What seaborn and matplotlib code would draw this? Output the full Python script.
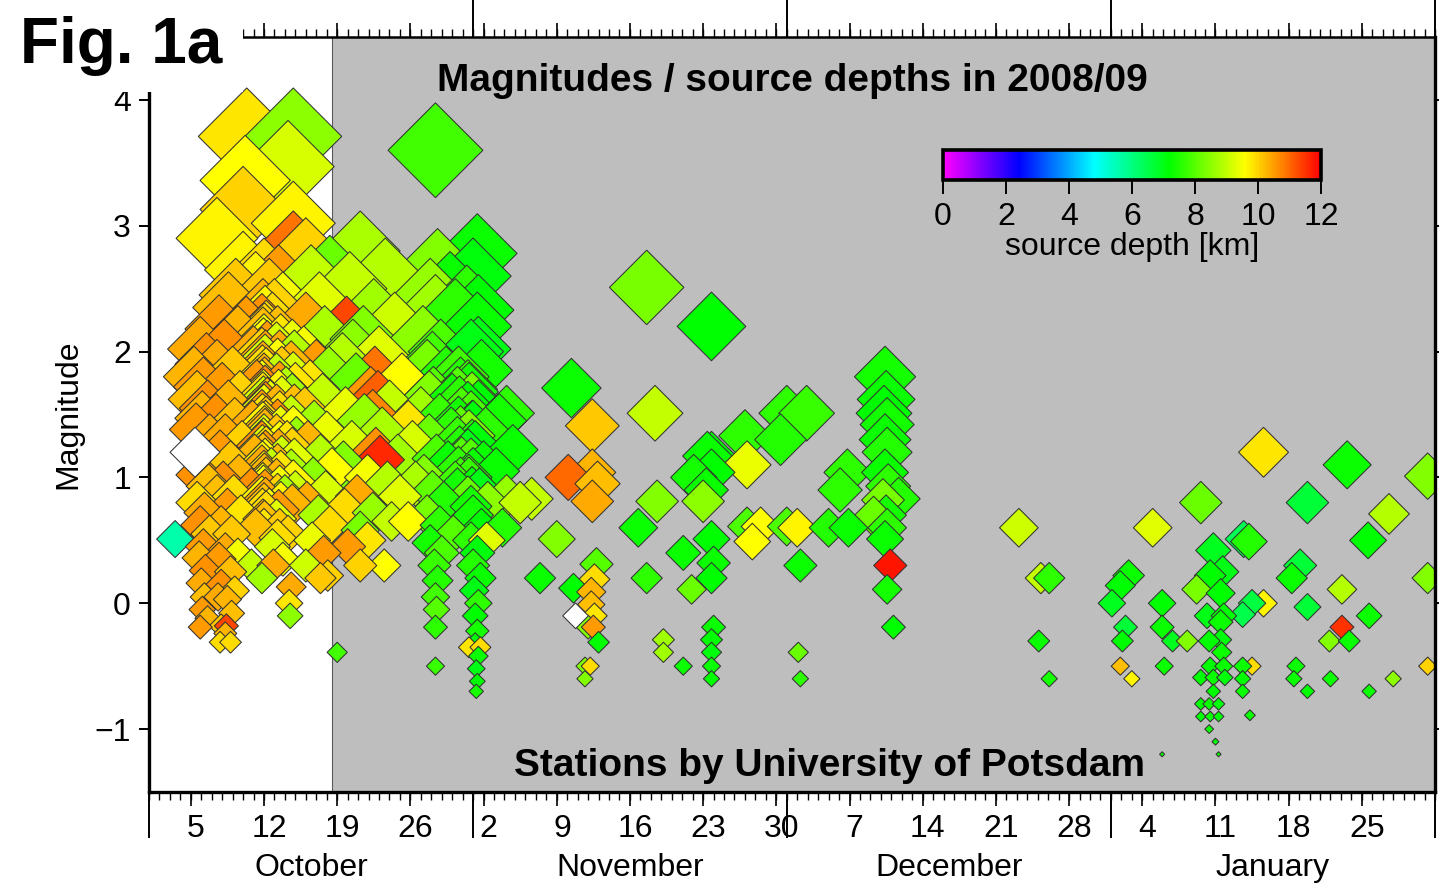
import numpy as np
import pandas as pd
import matplotlib
matplotlib.use("Agg")
import matplotlib.pyplot as plt
import seaborn as sns
from matplotlib.colors import LinearSegmentedColormap, Normalize
from matplotlib.cm import ScalarMappable
from matplotlib.patches import Rectangle
from matplotlib.ticker import NullLocator

# Event list: (days after 2008-10-01 00:00, magnitude, source depth in km)
# depth = nan marks events without a depth solution.

oct_early = [
    (2.5, 0.51, 5.6),
    (4.9, 2.02, 10.4), (5.5, 1.90, 10.6), (4.3, 1.80, 10.3), (5.2, 1.72, 10.5),
    (4.6, 1.62, 10.2), (5.6, 1.55, 10.6), (5.1, 1.47, 10.3), (4.5, 1.38, 10.5),
    (5.8, 1.30, 10.4), (5.4, 1.12, 10.3), (4.8, 1.02, 10.6), (5.7, 0.93, 10.2),
    (4.6, 0.80, 9.9), (5.3, 0.72, 10.4), (4.9, 0.62, 10.6), (5.8, 0.55, 10.1),
    (5.2, 0.45, 10.5), (4.8, 0.36, 10.3), (5.4, 0.26, 10.6), (5.0, 0.16, 10.4),
    (5.3, 0.05, 10.2), (5.1, -0.05, 10.5), (4.9, -0.19, 10.5), (5.6, -0.12, 10.3),
    (6.9, -0.18, 10.1), (7.4, -0.18, 11.3), (6.8, -0.31, 9.9), (7.8, -0.31, 9.9),
    (7.3, -0.24, 10.3),
]

oct_swarm_a = [
    (9.35, 3.71, 9.8), (9.2, 3.36, 9.6), (9.0, 3.13, 10.0), (6.5, 2.90, 9.7),
    (9.0, 2.65, 9.7), (8.3, 2.45, 10.1),
    (7.6, 2.35, 10.2), (6.7, 2.18, 10.5), (8.5, 2.10, 10.3), (7.2, 2.00, 10.6),
    (9.3, 2.17, 10.5), (6.5, 1.85, 10.4), (8.0, 1.80, 10.1), (7.0, 1.68, 10.5),
    (8.7, 1.62, 10.0), (7.6, 1.55, 10.3), (6.4, 1.45, 10.6), (8.2, 1.42, 10.2),
    (7.3, 1.30, 10.4), (8.9, 1.25, 10.0), (6.8, 1.18, 10.5), (7.8, 1.10, 10.1),
    (8.6, 1.00, 10.3), (7.1, 0.95, 10.6), (6.5, 0.85, 10.2), (8.1, 0.85, 9.9),
    (7.5, 0.75, 10.5), (8.8, 0.70, 9.8), (6.9, 0.62, 10.3), (7.9, 0.55, 10.1),
    (7.3, 0.42, 10.4), (8.5, 0.38, 9.5), (6.7, 0.35, 10.5), (7.8, 0.25, 10.2),
    (6.9, 0.15, 10.6), (8.2, 0.10, 10.0), (7.5, 0.03, 10.3), (6.6, 0.05, 10.4),
    (7.9, -0.08, 10.2),
]

oct_swarm_b = [
    (10.9, 2.30, 10.3), (11.1, 2.25, 9.7), (10.8, 2.19, 10.6), (11.2, 2.14, 9.9),
    (10.9, 2.09, 10.2), (11.0, 2.04, 9.5), (11.3, 1.99, 10.5), (10.8, 1.94, 10.0),
    (11.1, 1.89, 9.2), (10.9, 1.84, 10.4), (11.2, 1.79, 9.8), (11.0, 1.75, 10.3),
    (10.8, 1.70, 9.6), (11.1, 1.66, 10.7), (10.9, 1.61, 9.9), (11.3, 1.57, 10.2),
    (11.0, 1.52, 9.4), (10.8, 1.48, 10.5), (11.2, 1.43, 10.1), (10.9, 1.39, 9.7),
    (11.1, 1.34, 10.3), (11.0, 1.30, 9.3), (10.8, 1.25, 10.6), (11.2, 1.21, 9.8),
    (10.9, 1.16, 10.2), (11.1, 1.12, 9.6), (10.8, 1.07, 10.4), (11.0, 1.03, 9.9),
    (11.2, 0.98, 10.2), (10.9, 0.94, 9.5), (11.1, 0.89, 10.5), (10.8, 0.84, 9.7),
    (11.0, 0.79, 10.2), (11.2, 0.73, 9.9), (10.9, 0.67, 10.3), (11.0, 0.60, 9.8),
    (11.05, 2.12, 10.0), (10.95, 2.01, 9.6), (11.15, 1.92, 10.4), (10.85, 1.81, 9.9),
    (11.05, 1.72, 10.2), (10.95, 1.63, 9.5), (11.15, 1.54, 10.6), (10.85, 1.45, 9.8),
    (11.05, 1.36, 10.1), (10.95, 1.27, 9.4), (11.15, 1.18, 10.5), (10.85, 1.10, 9.7),
    (11.05, 1.01, 10.3), (10.95, 0.92, 9.6), (11.15, 0.83, 10.4), (10.85, 0.75, 9.9),
    (11.05, 0.66, 10.2), (10.95, 1.58, 9.1), (11.15, 1.40, 10.0), (10.85, 1.22, 9.3),
    (12.3, 2.10, 10.2), (12.6, 2.04, 9.8), (12.2, 1.98, 9.2), (12.5, 1.92, 10.4),
    (12.3, 1.86, 9.6), (12.7, 1.80, 10.1), (12.2, 1.75, 9.0), (12.5, 1.69, 10.5),
    (12.4, 1.63, 9.7), (12.7, 1.58, 9.3), (12.2, 1.52, 10.3), (12.5, 1.47, 9.9),
    (12.3, 1.41, 10.6), (12.6, 1.36, 9.4), (12.2, 1.30, 10.1), (12.5, 1.25, 9.6),
    (12.4, 1.19, 10.4), (12.7, 1.14, 9.1), (12.3, 1.08, 10.2), (12.6, 1.03, 9.8),
    (12.2, 0.97, 10.3), (12.5, 0.92, 9.5), (12.3, 0.86, 10.0), (12.6, 0.80, 9.7),
    (12.4, 0.74, 10.5), (12.2, 0.67, 9.3), (12.5, 0.60, 10.1), (12.3, 0.52, 9.9),
    (13.7, 2.00, 9.4), (13.9, 1.92, 8.9), (13.6, 1.84, 10.3), (13.8, 1.76, 9.2),
    (14.0, 1.68, 9.8), (13.7, 1.60, 8.7), (13.9, 1.52, 10.2), (13.6, 1.44, 9.0),
    (13.8, 1.36, 9.6), (14.1, 1.28, 8.6), (13.7, 1.20, 10.0), (13.9, 1.12, 9.3),
    (13.6, 1.04, 8.8), (13.8, 0.96, 9.7), (14.0, 0.88, 9.1), (13.7, 0.78, 10.3),
    (10.2, 2.50, 9.7), (11.5, 2.45, 10.1), (12.8, 2.35, 9.5), (10.0, 1.95, 10.4),
    (11.8, 2.20, 9.9), (10.3, 1.70, 10.5), (11.6, 1.55, 9.4), (9.9, 1.40, 10.4),
    (13.1, 1.65, 8.9), (10.1, 1.15, 10.3), (11.7, 1.05, 9.0), (13.2, 1.25, 9.8),
    (9.8, 0.90, 10.6), (11.5, 0.75, 9.6), (13.0, 0.85, 8.8), (10.2, 0.60, 10.2),
    (11.8, 0.45, 9.2), (13.3, 0.55, 10.0), (9.8, 0.30, 9.0), (10.8, 0.20, 8.7),
    (11.9, 0.30, 10.4), (12.8, 0.35, 9.5), (13.5, -0.10, 8.5), (13.4, 0.00, 9.8),
    (13.6, 0.13, 10.4), (11.0, 2.60, 9.9), (12.4, 2.55, 10.5),
    (13.8, 3.71, 8.5), (13.3, 3.47, 9.2), (13.8, 3.02, 9.7), (13.8, 2.80, 10.9),
    (15.0, 2.75, 10.0), (12.0, 2.30, 10.0),
]

oct_mid = [
    (15.5, 2.55, 9.0), (16.3, 2.35, 9.3), (15.0, 2.20, 10.4), (16.8, 2.10, 8.8),
    (14.8, 1.95, 9.5), (16.0, 1.85, 10.5), (17.2, 1.80, 8.6), (15.4, 1.70, 9.8),
    (16.6, 1.60, 9.0), (14.9, 1.50, 10.1), (15.8, 1.40, 8.7), (17.0, 1.32, 9.4),
    (15.2, 1.25, 10.3), (16.4, 1.15, 8.9), (17.5, 1.05, 9.6), (15.7, 0.98, 8.5),
    (16.9, 0.88, 9.2), (15.1, 0.80, 10.4), (16.2, 0.70, 8.8), (17.3, 0.62, 9.9),
    (15.6, 0.50, 9.4), (16.7, 0.40, 10.5), (15.0, 0.30, 9.1), (16.4, 0.20, 10.1),
    (17.1, 0.22, 10.0), (17.3, 2.62, 8.2),
    (20.2, 2.80, 8.8), (22.6, 2.60, 8.9), (19.2, 2.50, 9.0), (18.9, 2.17, 11.3),
    (19.5, 2.00, 8.5), (21.5, 2.30, 8.7), (23.5, 2.20, 9.1), (20.5, 2.10, 8.4),
    (18.5, 1.90, 8.9), (22.0, 1.95, 9.3), (24.2, 1.75, 9.6), (19.8, 1.75, 8.2),
    (21.2, 1.65, 10.5), (21.6, 1.80, 10.9), (21.9, 1.62, 11.1), (21.4, 1.48, 10.7),
    (23.0, 1.55, 9.0), (18.8, 1.50, 9.4), (20.6, 1.45, 8.6), (24.8, 1.40, 9.8),
    (22.3, 1.35, 8.8), (19.4, 1.25, 9.2), (22.1, 1.14, 11.6), (21.7, 1.20, 10.6),
    (23.8, 1.15, 8.7), (18.6, 1.10, 8.4), (20.9, 1.00, 9.5), (22.8, 0.95, 8.9),
    (19.9, 0.85, 10.4), (24.0, 0.85, 9.3), (18.7, 0.75, 9.9), (21.4, 0.72, 8.6),
    (23.2, 0.65, 9.0), (20.2, 0.58, 8.3), (19.0, 0.45, 10.5), (20.9, 0.50, 9.8),
    (22.5, 0.30, 9.6), (20.2, 0.30, 10.0), (18.0, -0.39, 7.8),
]

oct_late = [
    (27.4, 3.60, 7.8), (27.6, 2.67, 8.4), (27.4, 2.33, 8.7), (26.9, 2.45, 8.6),
    (28.8, 2.50, 7.3), (29.3, 2.30, 7.6), (26.2, 2.10, 8.5), (27.9, 2.00, 7.9),
    (27.1, 1.91, 7.8), (26.6, 1.85, 8.3), (28.4, 1.80, 7.5), (26.8, 1.62, 8.4),
    (27.2, 1.65, 8.0), (29.0, 1.60, 7.4), (26.0, 1.50, 8.7), (27.8, 1.45, 7.7),
    (28.9, 1.35, 7.6), (26.8, 1.30, 8.2), (27.5, 1.15, 7.9), (28.6, 1.10, 7.3),
    (26.3, 1.00, 8.4), (29.3, 0.95, 7.8), (27.1, 0.88, 8.1), (28.2, 0.80, 7.5),
    (26.6, 0.70, 8.3), (27.8, 0.62, 7.6), (29.1, 0.55, 8.0), (26.9, 0.48, 7.4),
    (28.0, 0.40, 7.9), (27.3, 0.30, 7.7), (27.6, 0.18, 7.5), (27.4, 0.05, 7.8),
    (27.5, -0.05, 8.0), (27.4, -0.19, 7.6), (27.4, -0.50, 7.7), (25.2, 1.25, 9.2),
    (24.8, 0.65, 9.6), (25.5, 0.95, 8.8),
    (29.6, 1.80, 7.8), (29.8, 1.72, 7.5), (29.5, 1.65, 8.0), (29.7, 1.58, 7.6),
    (29.9, 1.50, 7.9), (29.6, 1.43, 7.4), (29.8, 1.36, 8.1), (29.5, 1.28, 7.7),
    (29.7, 1.21, 7.5), (29.9, 1.13, 8.0), (29.6, 1.06, 7.6), (29.8, 0.98, 7.8),
    (29.5, 0.90, 7.4),
]

nov_early = [
    (31.4, 2.78, 7.3), (31.0, 2.60, 7.1), (31.5, 2.33, 7.2), (30.4, 2.40, 7.6),
    (31.4, 2.20, 7.3), (31.5, 2.02, 7.0), (30.8, 2.00, 7.0), (31.8, 1.85, 7.4),
    (30.5, 1.70, 7.8), (31.5, 1.55, 7.2), (30.9, 1.40, 7.5), (32.2, 1.35, 7.6),
    (31.2, 1.25, 7.1), (32.0, 1.10, 7.3), (30.6, 1.00, 7.7), (31.6, 0.90, 7.0),
    (32.4, 0.80, 8.5), (31.0, 0.70, 7.4), (31.8, 0.60, 7.2), (30.8, 0.50, 7.6),
    (32.3, 0.50, 9.3), (31.4, 0.40, 7.1), (31.0, 0.30, 7.5), (31.7, 0.20, 7.3),
    (31.1, 0.10, 7.0), (31.5, 0.00, 7.6), (31.2, -0.10, 7.2), (31.4, -0.22, 7.4),
    (31.2, -0.32, 7.1), (31.5, -0.42, 7.3), (31.3, -0.52, 7.0), (31.4, -0.62, 7.2),
    (31.3, -0.70, 7.4), (30.6, -0.35, 9.8), (31.7, -0.35, 9.9),
    (30.6, 1.68, 7.4), (30.9, 1.61, 8.3), (30.5, 1.54, 7.2), (30.8, 1.47, 7.9),
    (31.0, 1.40, 7.1), (30.6, 1.33, 8.4), (30.9, 1.26, 7.5), (30.5, 1.19, 7.0),
    (30.8, 1.12, 8.0), (31.0, 1.05, 7.3), (30.6, 0.98, 7.7), (30.9, 0.91, 7.2),
    (30.5, 0.84, 8.2), (30.8, 0.77, 7.4),
    (34.2, 1.51, 7.6), (34.8, 1.22, 7.3), (33.5, 1.45, 7.4), (33.2, 1.05, 7.3),
    (34.2, 0.85, 8.6), (35.5, 0.80, 9.0), (33.8, 0.60, 7.5), (36.6, 0.83, 9.0),
    (37.4, 0.20, 7.3), (39.0, 0.51, 8.4),
]

nov_late = [
    (47.6, 2.51, 8.3), (53.8, 2.20, 7.2), (40.4, 1.71, 7.3), (48.4, 1.51, 9.0),
    (42.4, 1.41, 10.1), (40.1, 1.00, 11.0), (42.4, 1.04, 10.3), (42.4, 0.81, 10.4),
    (42.9, 0.95, 10.2), (57.2, 1.10, 9.4), (53.8, 1.04, 7.2), (48.6, 0.81, 8.4),
    (53.0, 0.81, 8.5), (46.8, 0.60, 7.3), (53.8, 0.51, 7.2), (51.1, 0.40, 7.3),
    (47.6, 0.20, 7.6), (40.6, 0.12, 7.2), (51.9, 0.11, 8.2), (53.8, 0.20, 7.2),
    (54.0, 0.32, 7.3), (42.8, 0.31, 8.0), (42.6, 0.19, 9.9), (42.3, 0.09, 10.3),
    (42.3, -0.01, 10.2), (42.6, -0.10, 9.8), (42.0, -0.19, 8.4), (42.5, -0.19, 10.5),
    (43.0, -0.31, 7.2), (41.7, -0.50, 8.4), (41.7, -0.60, 8.4), (42.2, -0.50, 9.9),
    (49.2, -0.29, 8.7), (49.2, -0.39, 8.7), (51.1, -0.50, 7.3), (54.0, -0.19, 7.3),
    (53.8, -0.29, 7.2), (53.8, -0.39, 7.1), (53.8, -0.50, 7.3), (53.8, -0.60, 7.2),
    (62.1, -0.39, 8.2), (62.3, -0.60, 7.6),
    (57.0, 1.33, 7.6), (53.8, 1.17, 7.2), (53.4, 1.17, 7.3), (52.1, 1.00, 7.4),
    (53.3, 0.90, 7.3), (57.2, 0.61, 7.9), (57.7, 0.49, 9.6), (58.5, 0.61, 9.6),
    (61.0, 1.51, 7.6), (62.9, 1.51, 7.7), (60.4, 1.30, 7.5),
    (61.0, 0.61, 7.9), (62.0, 0.60, 9.7), (62.3, 0.30, 7.3),
]

dec_events = [
    (65.0, 0.60, 7.5), (66.9, 0.60, 7.3), (66.1, 0.90, 7.6), (66.8, 1.04, 7.6),
    (69.3, 0.69, 8.2), (71.7, 0.83, 7.5),
    (70.4, 1.80, 7.4), (70.5, 1.62, 7.3), (70.3, 1.51, 7.2), (70.6, 1.42, 7.4),
    (70.4, 1.30, 7.3), (70.6, 1.20, 7.5), (70.4, 1.04, 7.3), (70.7, 0.93, 7.6),
    (70.2, 0.82, 8.3), (70.5, 0.70, 7.4), (70.6, 0.60, 7.6), (70.4, 0.51, 7.3),
    (70.9, 0.30, 11.8), (70.6, 0.11, 7.4), (71.2, -0.19, 7.2),
    (83.2, 0.60, 9.1), (85.3, 0.20, 9.0), (86.1, 0.20, 7.6), (85.1, -0.30, 7.3),
    (86.1, -0.60, 7.4),
]

jan_events = [
    (96.0, 0.60, 9.3), (100.6, 0.80, 8.2), (106.6, 1.20, 9.8), (114.6, 1.10, 7.3),
    (110.8, 0.80, 6.7), (118.6, 0.71, 8.9), (116.6, 0.50, 7.2), (122.3, 1.01, 8.4),
    (122.3, 0.20, 8.4), (122.3, -0.50, 10.0), (101.8, 0.42, 6.9), (104.7, 0.51, 6.4),
    (105.2, 0.49, 7.5), (110.1, 0.30, 6.7), (109.3, 0.20, 7.3), (114.1, 0.11, 8.9),
    (114.1, -0.19, 11.5), (116.7, -0.10, 7.3), (112.9, -0.30, 8.4), (114.8, -0.30, 7.3),
    (110.8, -0.03, 6.7), (109.7, -0.50, 7.3), (109.5, -0.60, 7.3), (113.0, -0.60, 7.3),
    (110.8, -0.70, 7.2), (116.7, -0.70, 7.3), (119.0, -0.60, 8.5), (105.5, -0.50, 9.9),
    (104.6, -0.50, 7.3), (104.6, -0.60, 7.2), (104.6, -0.70, 7.3), (105.3, -0.89, 7.3),
    (106.6, 0.00, 9.7), (105.5, 0.00, 6.6), (104.6, -0.09, 6.5),
    (101.5, 0.22, 7.2), (100.2, 0.11, 8.3), (102.5, 0.08, 7.2), (102.7, 0.25, 7.0),
    (101.2, -0.10, 7.0), (102.5, -0.15, 7.3), (102.8, -0.10, 7.2), (101.4, -0.30, 7.2),
    (102.5, -0.29, 7.1), (102.6, -0.39, 7.3), (101.5, -0.50, 7.2), (102.8, -0.50, 7.3),
    (100.6, -0.59, 7.2), (101.8, -0.59, 7.3), (102.9, -0.59, 7.1), (101.8, -0.70, 7.2),
    (100.6, -0.80, 7.2), (101.4, -0.80, 7.3), (102.3, -0.80, 7.1), (100.6, -0.90, 7.2),
    (101.5, -0.90, 7.3), (102.3, -0.90, 7.2), (101.4, -1.00, 7.3), (102.0, -1.10, 7.2),
    (102.3, -1.20, 7.3), (96.9, -1.20, 7.3),
    (93.7, 0.22, 7.3), (92.9, 0.14, 7.2), (92.1, 0.00, 6.9), (93.4, -0.19, 6.7),
    (93.1, -0.30, 7.2), (92.9, -0.50, 10.2), (94.0, -0.60, 9.7), (96.9, 0.00, 7.2),
    (96.9, -0.19, 7.3), (97.9, -0.30, 6.9), (97.1, -0.50, 7.3), (99.3, -0.30, 8.4),
]

unlocated = [(4.4, 1.20, np.nan), (40.8, -0.10, np.nan)]

depth_colors = ["#ff00ff", "#0000ff", "#00ffff", "#00ff00", "#ffff00", "#ff0000"]
depth_ticks = [0, 2, 4, 6, 8, 10, 12]
month_names = ["October", "November", "December", "January"]
mag_ticks = [-1, 0, 1, 2, 3, 4]

# ---------------------------------------------------------------------------
sns.set_theme(style="ticks")
plt.rcParams["font.family"] = ["Liberation Sans", "DejaVu Sans"]

cols = ["day", "mag", "depth"]
events = pd.DataFrame(oct_early + oct_swarm_a + oct_swarm_b + oct_mid + oct_late
                      + nov_early + nov_late + dec_events + jan_events, columns=cols)
located = events.sort_values("mag", ascending=False, kind="stable").reset_index(drop=True)
no_depth = pd.DataFrame(unlocated, columns=cols)

depth_cmap = LinearSegmentedColormap.from_list("depth", depth_colors)
DPI = 100
TICK_FS = 23


def marker_area(mag):
    # diamond tip-to-tip width grows linearly with magnitude (pixels -> points^2)
    width_px = np.clip(27.5 + 18.7 * np.asarray(mag, dtype=float), 4, None)
    return (width_px / (np.sqrt(2) * DPI / 72)) ** 2


fig = plt.figure(figsize=(14.39, 8.92), dpi=DPI)
fig.patch.set_facecolor("white")
ax = fig.add_axes([149 / 1439, 1 - 792 / 892, 1286 / 1439, 755 / 892])
ax.set_facecolor("white")

grey_start = 17.5
ax.axvspan(grey_start, 123, color="#bebebe", lw=0, zorder=0)
ax.axvline(grey_start, color="#5a5a5a", lw=0.8, zorder=0.5)

sns.scatterplot(data=located, x="day", y="mag", hue="depth", palette=depth_cmap,
                hue_norm=(0, 12), marker="D", s=marker_area(located["mag"]),
                edgecolor="#333333", linewidth=0.75, legend=False, ax=ax, zorder=2)
sns.scatterplot(data=no_depth, x="day", y="mag", color="white", marker="D",
                s=marker_area(no_depth["mag"]), edgecolor="#333333", linewidth=0.75,
                legend=False, ax=ax, zorder=2)

ax.set_xlim(0, 123)
ax.set_ylim(-1.5, 4.5)

# calendar-based tick positions
origin = pd.Timestamp("2008-10-01")
sundays = pd.date_range("2008-10-05", "2009-01-25", freq="7D")
sunday_pos = np.asarray((sundays - origin).days, dtype=float)
month_starts = pd.date_range("2008-10-01", "2009-02-01", freq="MS")
month_pos = np.asarray((month_starts - origin).days, dtype=float)
month_mid = (month_pos[:-1] + month_pos[1:]) / 2
day_edges = np.arange(0, 124)

ax.set_xticks(sunday_pos + 0.5, labels=[str(d.day) for d in sundays])
ax.set_xticks(day_edges, minor=True)
ax.tick_params(axis="x", which="major", bottom=True, top=False, length=0,
               labelsize=TICK_FS, pad=16, colors="black")
ax.tick_params(axis="x", which="minor", bottom=True, top=True, direction="out",
               length=5.5, width=1.0, color="black")

ax.set_yticks(mag_ticks)
ax.yaxis.set_minor_locator(NullLocator())
ax.tick_params(axis="y", which="major", left=True, right=True, direction="out",
               length=7, width=1.4, labelsize=TICK_FS, pad=6, colors="black")
ax.set_xlabel("")
ax.set_ylabel("Magnitude", fontsize=TICK_FS, labelpad=8, color="black")

for side in ["left", "bottom", "right"]:
    ax.spines[side].set_linewidth(2.4)
    ax.spines[side].set_color("black")
ax.spines["top"].set_linewidth(1.8)
ax.spines["top"].set_color("black")

# weekly and monthly ticks, bottom
sec_b = ax.secondary_xaxis("bottom")
sec_b.set_xticks(sunday_pos)
sec_b.set_xticks(month_pos, minor=True)
sec_b.tick_params(axis="x", which="major", direction="out", length=10, width=1.2,
                  labelbottom=False, color="black")
sec_b.tick_params(axis="x", which="minor", direction="out", length=33, width=1.4,
                  labelbottom=False, color="black")
sec_b.spines["bottom"].set_visible(False)

# month names
sec_m = ax.secondary_xaxis("bottom")
sec_m.set_xticks(month_mid, labels=month_names)
sec_m.xaxis.set_minor_locator(NullLocator())
sec_m.tick_params(axis="x", which="major", length=0, labelsize=TICK_FS, pad=44,
                  colors="black")
sec_m.spines["bottom"].set_visible(False)

# weekly and monthly ticks, top
sec_t = ax.secondary_xaxis("top")
sec_t.set_xticks(sunday_pos)
sec_t.set_xticks(month_pos, minor=True)
sec_t.tick_params(axis="x", which="major", direction="out", length=10, width=1.2,
                  labeltop=False, color="black")
sec_t.tick_params(axis="x", which="minor", direction="out", length=28, width=1.4,
                  labeltop=False, color="black")
sec_t.spines["top"].set_visible(False)

ax.text(0.5, 0.942, "Magnitudes / source depths in 2008/09", transform=ax.transAxes,
        ha="center", va="center", fontsize=28, fontweight="bold", color="black",
        zorder=5)
ax.text(0.529, 0.034, "Stations by University of Potsdam", transform=ax.transAxes,
        ha="center", va="center", fontsize=28, fontweight="bold", color="black",
        zorder=5)

# depth colour scale
cax = fig.add_axes([943 / 1439, 1 - 180 / 892, 378 / 1439, 30 / 892])
cb = fig.colorbar(ScalarMappable(norm=Normalize(0, 12), cmap=depth_cmap), cax=cax,
                  orientation="horizontal", ticks=depth_ticks)
cb.outline.set_linewidth(2.6)
cb.outline.set_edgecolor("black")
cax.tick_params(axis="x", direction="out", length=10, width=1.4, labelsize=TICK_FS,
                pad=6, colors="black")
cax.xaxis.set_minor_locator(NullLocator())
cb.set_label("source depth [km]", fontsize=TICK_FS, labelpad=0, color="black")

# figure tag on a white panel
fig.add_artist(Rectangle((0, 1 - 92 / 892), 243 / 1439, 92 / 892,
                         transform=fig.transFigure, facecolor="white",
                         edgecolor="none", zorder=5))
fig.text(20 / 1439, 1 - 46 / 892, "Fig. 1a", fontsize=46, fontweight="bold",
         ha="left", va="center", color="black", zorder=6)

fig.savefig("out.png", dpi=DPI)
